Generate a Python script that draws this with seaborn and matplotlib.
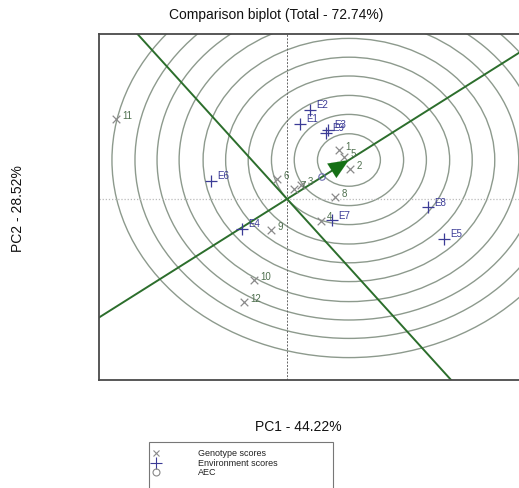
import numpy as np
import pandas as pd
import matplotlib
matplotlib.use("Agg")
import matplotlib.pyplot as plt
from matplotlib.lines import Line2D
from matplotlib.patches import Rectangle, Circle
import seaborn as sns

# Genotype scores (PC1, PC2)
genotypes = ["1", "2", "3", "4", "5", "6", "7", "8", "9", "10", "11", "12"]
gen_pc1 = [1.08, 1.31, 0.29, 0.70, 1.19, -0.21, 0.15, 1.01, -0.33, -0.69, -3.56, -0.90]
gen_pc2 = [1.23, 0.75, 0.35, -0.54, 1.05, 0.50, 0.25, 0.04, -0.78, -2.03, 2.00, -2.58]

# Environment scores (PC1, PC2)
environments = ["E1", "E2", "E3", "E4", "E5", "E6", "E7", "E8", "E9"]
env_pc1 = [0.27, 0.48, 0.85, -0.94, 3.27, -1.58, 0.94, 2.93, 0.81]
env_pc2 = [1.88, 2.23, 1.73, -0.75, -1.00, 0.45, -0.53, -0.21, 1.65]

# Average environment coordinate and ideal point on the AEC
aec_point = [0.73, 0.55]
ideal_point = [1.29, 0.975]
ring_radii = [0.656, 1.14, 1.615, 2.10, 2.57, 3.04, 3.54, 4.00, 4.46, 4.94]

title = "Comparison biplot (Total - 72.74%)"
xlabel = "PC1 - 44.22%"
ylabel = "PC2 - 28.52%"
legend_labels = ["Genotype scores", "Environment scores", "AEC"]

W, H = 519, 489
GREEN = "#2c6e2c"
RING = "#8d9a8d"
GEN_MARK = "#8a8a8a"
GEN_TEXT = "#4f704f"
ENV_COL = "#3b3b96"

sns.set_theme(style="white")
plt.rcParams["font.family"] = ["Liberation Sans", "DejaVu Sans"]

fig = plt.figure(figsize=(W / 100, H / 100), dpi=100)
fig.patch.set_facecolor("white")

def fx(px):
    return px / W

def fy(py):
    return 1 - py / H

ax = fig.add_axes([fx(99), fy(381), fx(560) - fx(99), fy(35) - fy(381)])
ax.set_xlim(-3.92, 5.69)
ax.set_ylim(-4.525, 4.125)
ax.set_xticks([])
ax.set_yticks([])
for s in ax.spines.values():
    s.set_color("#4a4a4a")
    s.set_linewidth(1.3)

# concentric rings around the ideal point
for r in ring_radii:
    ax.add_patch(Circle(ideal_point, r, fill=False, ec=RING, lw=1.0, zorder=1))

# reference lines through the origin
ax.axvline(0, color="#666666", ls=(0, (2, 1.5)), lw=0.7, zorder=1)
ax.axhline(0, color="#bbbbbb", ls=(0, (1, 1.5)), lw=0.9, zorder=1)

# AEC abscissa and ordinate
dx, dy = ideal_point
t = np.array([-20, 20])
ax.plot(t * dx, t * dy, color=GREEN, lw=1.4, zorder=2)
ax.plot(t * dy, -t * dx, color=GREEN, lw=1.4, zorder=2)

# arrow head at the ideal point
start = [ideal_point[0] * 0.7, ideal_point[1] * 0.7]
ax.annotate("", xy=ideal_point, xytext=start,
            arrowprops=dict(arrowstyle="-|>,head_length=0.4,head_width=0.17",
                            mutation_scale=36, color="#157015", lw=0.1,
                            shrinkA=0, shrinkB=0), zorder=4)

gen_df = pd.DataFrame({"pc1": gen_pc1, "pc2": gen_pc2, "name": genotypes})
env_df = pd.DataFrame({"pc1": env_pc1, "pc2": env_pc2, "name": environments})

sns.scatterplot(data=gen_df, x="pc1", y="pc2", marker="x", s=30, color=GEN_MARK,
                linewidth=0.9, ax=ax, zorder=3)
sns.scatterplot(data=env_df, x="pc1", y="pc2", marker="+", s=70, color=ENV_COL,
                linewidth=0.9, ax=ax, zorder=3)
ax.scatter([aec_point[0]], [aec_point[1]], marker="o", s=22, facecolor="none",
           edgecolor="#6c6cb0", linewidth=0.8, zorder=3)
ax.set_xlabel("")
ax.set_ylabel("")

for _, row in gen_df.iterrows():
    ax.annotate(row["name"], (row["pc1"], row["pc2"]), xytext=(4.5, 3),
                textcoords="offset points", fontsize=7, color=GEN_TEXT,
                ha="left", va="center", zorder=5)
for _, row in env_df.iterrows():
    ax.annotate(row["name"], (row["pc1"], row["pc2"]), xytext=(4.5, 4),
                textcoords="offset points", fontsize=7, color=ENV_COL,
                ha="left", va="center", zorder=5)

# titles
fig.text(fx(276), fy(15), title, ha="center", va="center", fontsize=10, color="#111111")
fig.text(fx(298), fy(427), xlabel, ha="center", va="center", fontsize=10, color="#111111")
fig.text(fx(18), fy(209), ylabel, ha="center", va="center", fontsize=10,
         rotation=90, color="#111111")

# legend box
fig.add_artist(Rectangle((fx(149), fy(500)), fx(333) - fx(149), fy(443) - fy(500),
                         transform=fig.transFigure, fill=False, ec="#777777", lw=0.8))
leg_y = [454, 464, 473]
leg_marks = [("x", GEN_MARK, 5), ("+", ENV_COL, 8), ("o", "#888888", 5)]
for yy, (m, c, ms), lab in zip(leg_y, leg_marks, legend_labels):
    fig.add_artist(Line2D([fx(156)], [fy(yy)], marker=m, markersize=ms, color=c,
                          markerfacecolor="none", markeredgewidth=0.8, lw=0,
                          transform=fig.transFigure))
    fig.text(fx(198), fy(yy), lab, ha="left", va="center", fontsize=6.5, color="#222222")

fig.savefig("out.png", dpi=100)
